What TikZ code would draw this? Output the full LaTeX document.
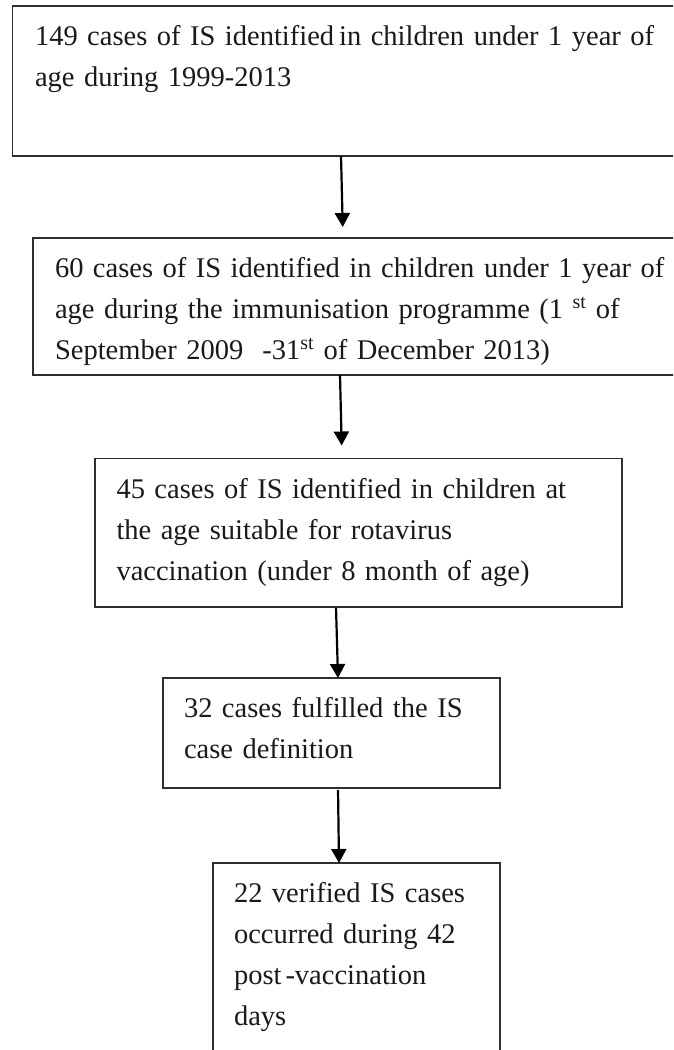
\documentclass[tikz,border=0pt]{standalone}
\usepackage{fontspec}
\setmainfont{Liberation Serif}
\usetikzlibrary{arrows.meta}
\definecolor{boxline}{HTML}{2E2E2E}
\definecolor{txt}{HTML}{1A1A1A}
\tikzset{
  flowbox/.style={draw=boxline, line width=1.6pt, rectangle, anchor=north west, inner sep=0pt, outer sep=0pt},
  flowtext/.style={anchor=base west, inner sep=0pt, outer sep=0pt, text=txt, text width=640pt, align=left,
                   font=\fontsize{28.5}{41}\selectfont},
  flowarrow/.style={draw=black, line width=2.2pt, -{Triangle[length=14pt,width=15pt]}},
}
\begin{document}
\begin{tikzpicture}[x=1pt,y=-1pt]
\useasboundingbox (0,0) rectangle (673,1050);
\clip (0,0) rectangle (673,1050);
% boxes
\node[flowbox, minimum width=690pt, minimum height=150pt] (b1) at (12.5,6) {};
\node[flowbox, minimum width=670pt, minimum height=137pt] (b2) at (33,238) {};
\node[flowbox, minimum width=527pt, minimum height=148.5pt] (b3) at (95,458.5) {};
\node[flowbox, minimum width=337pt, minimum height=110pt] (b4) at (163,678) {};
\node[flowbox, minimum width=287pt, minimum height=220pt] (b5) at (213,863) {};
% texts
\node[flowtext] (t1) at (35,45.5) {149 cases of IS identified\kern5pt{}in children under 1 year of\\age during 1999-2013};
\node[flowtext] (t2) at (55,277) {60 cases of IS identified in children under 1 year of\\age during the immunisation programme (1 \textsuperscript{st} of\\September 2009\ \ -31\textsuperscript{st} of December 2013)};
\node[flowtext] (t3) at (116.5,498) {45 cases of IS identified in children at\\the age suitable for rotavirus\\vaccination (under 8 month of age)};
\node[flowtext] (t4) at (184,717) {32 cases fulfilled the IS\\case definition};
\node[flowtext] (t5) at (234,902) {22 verified IS cases\\occurred\ during 42\\post\kern4pt{}-vaccination\\days};
% arrows
\coordinate (a1s) at (341,0); \coordinate (a1e) at (343,0);
\coordinate (a2s) at (340,0); \coordinate (a2e) at (342,0);
\coordinate (a3s) at (336,0); \coordinate (a3e) at (338,0);
\coordinate (a4s) at (338,0); \coordinate (a4e) at (339,0);
\draw[flowarrow, shorten >=11pt] (b1.south -| a1s) -- (b2.north -| a1e);
\draw[flowarrow, shorten >=13pt] (b2.south -| a2s) -- (b3.north -| a2e);
\draw[flowarrow, shorten <=1pt] (b3.south -| a3s) -- (b4.north -| a3e);
\draw[flowarrow, shorten <=2pt] (b4.south -| a4s) -- (b5.north -| a4e);
\end{tikzpicture}
\end{document}
